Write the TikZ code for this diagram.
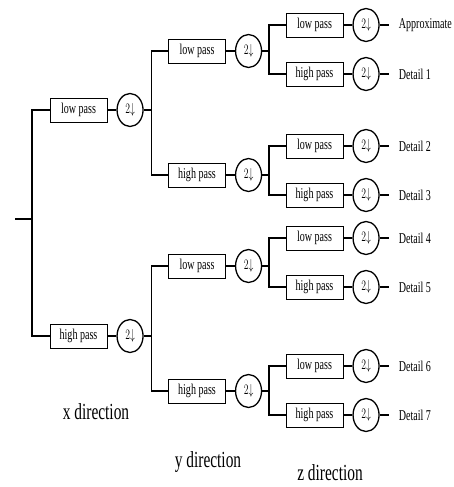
\documentclass[tikz,border=0pt]{standalone}
\usepackage{fontspec}
\setmainfont{Liberation Serif}
\usepackage{graphicx}
\usetikzlibrary{positioning,shapes.geometric}
% the figure is squeezed sideways, so the text is too
\newcommand{\sq}[1]{\scalebox{0.67}[1]{#1}}

\begin{document}
\begin{tikzpicture}[
    x=1pt, y=-1pt,
    filt/.style={rectangle, draw, line width=0.8pt, minimum width=57pt, minimum height=24pt, inner sep=0pt, font=\fontsize{15}{18}\selectfont},
    down/.style={ellipse, draw, line width=1.3pt, minimum width=26pt, minimum height=33pt, inner sep=0pt, font=\fontsize{15}{18}\selectfont},
    conn/.style={line width=1.5pt},
    outlbl/.style={anchor=west, inner sep=1pt, font=\fontsize{15}{18}\selectfont},
    dirlbl/.style={font=\fontsize{23}{27}\selectfont}
  ]
    \useasboundingbox (0,0) rectangle (454,487);
    % x direction
    \coordinate (root) at (15,219);
    \coordinate (j0) at (32,219);
    \draw[conn] (root) -- (j0);
    \node[filt] (xl) at (78.5,110) {\sq{low pass}};
    \node[down, right=9pt of xl] (xlc) {\sq{$2{\downarrow}$}};
    \node[filt] (xh) at (78.5,336) {\sq{high pass}};
    \node[down, right=9pt of xh] (xhc) {\sq{$2{\downarrow}$}};
    \draw[conn] (j0) |- (xl);
    \draw[conn] (j0) |- (xh);
    \draw[conn] (xl) -- (xlc);
    \draw[conn] (xh) -- (xhc);
    \draw[conn] (xlc.east) -- ++(8,0) coordinate (jxl);
    \draw[conn] (xhc.east) -- ++(8,0) coordinate (jxh);
    % y direction
    \foreach \nm/\yy/\txt/\src in {yl1/51/low pass/jxl, yh1/175/high pass/jxl,
                                   yl2/266/low pass/jxh, yh2/391/high pass/jxh}{
      \node[filt] (\nm) at (197,\yy) {\sq{\txt}};
      \node[down, right=9pt of \nm] (\nm-c) {\sq{$2{\downarrow}$}};
      \draw[conn] (\src) |- (\nm);
      \draw[conn] (\nm) -- (\nm-c);
      \draw[conn] (\nm-c.east) -- ++(7,0) coordinate (j\nm);
    }
    % z direction
    \foreach \nm/\yy/\txt/\src/\lab in {zl1/25/low pass/jyl1/Approximate, zh1/74/high pass/jyl1/Detail 1,
                                        zl2/146/low pass/jyh1/Detail 2, zh2/195/high pass/jyh1/Detail 3,
                                        zl3/238/low pass/jyl2/Detail 4, zh3/287/high pass/jyl2/Detail 5,
                                        zl4/366/low pass/jyh2/Detail 6, zh4/415/high pass/jyh2/Detail 7}{
      \node[filt] (\nm) at (314.5,\yy) {\sq{\txt}};
      \node[down, right=9pt of \nm] (\nm-c) {\sq{$2{\downarrow}$}};
      \draw[conn] (\src) |- (\nm);
      \draw[conn] (\nm) -- (\nm-c);
      \draw[conn] (\nm-c.east) -- ++(9,0) coordinate (\nm-o);
      \node[outlbl] (\nm-t) at ([xshift=9pt]\nm-o) {\sq{\lab}};
    }
    \node[dirlbl] (xdir) at (96,412) {\sq{x direction}};
    \node[dirlbl] (ydir) at (208,462) {\sq{y direction}};
    \node[dirlbl] (zdir) at (330,473) {\sq{z direction}};
\end{tikzpicture}
\end{document}
